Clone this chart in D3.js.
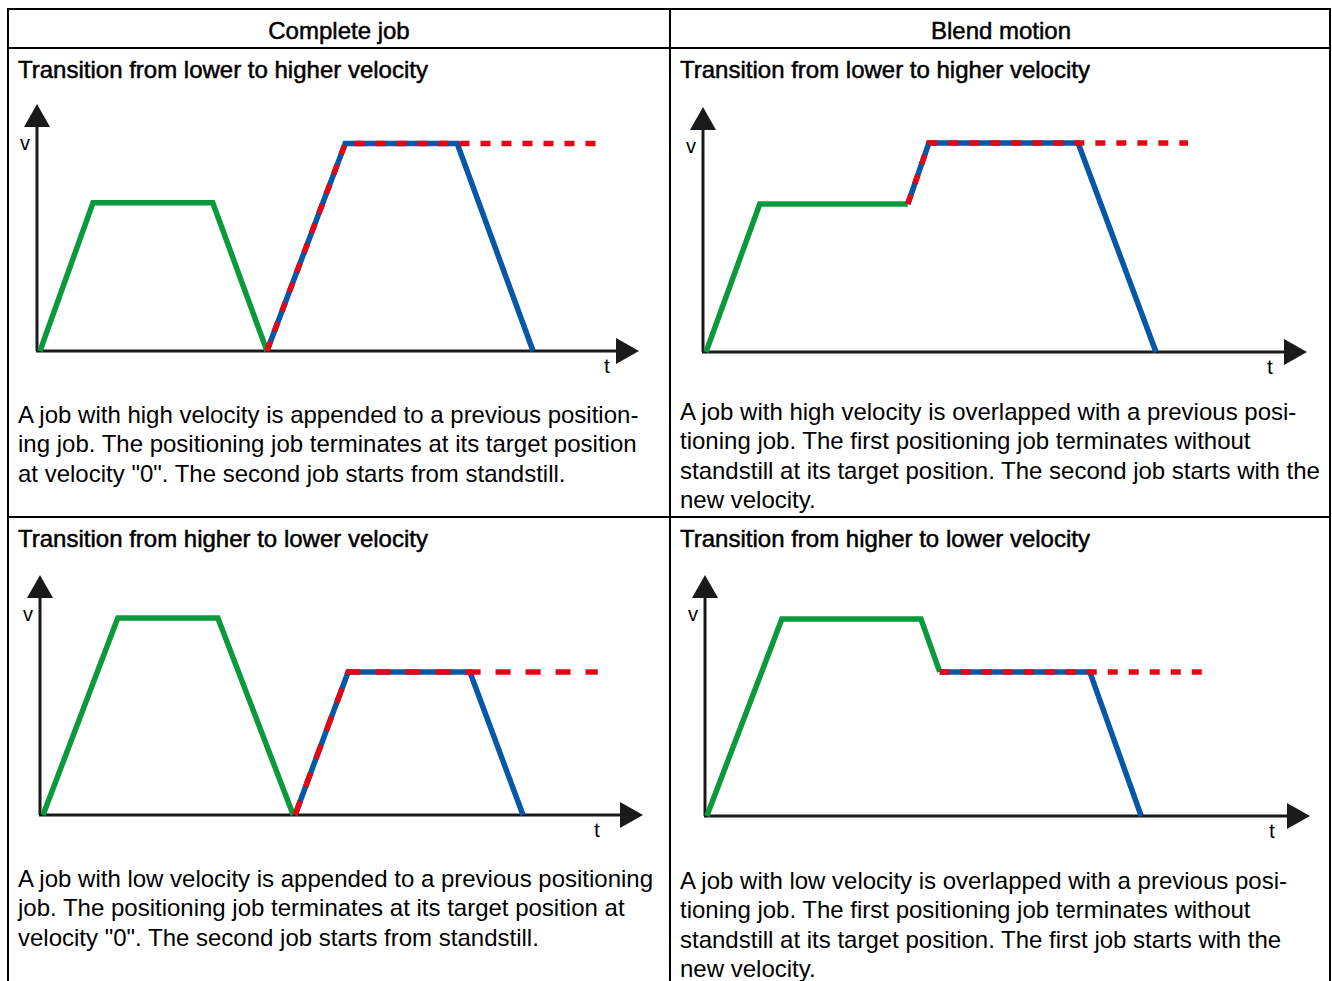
<!DOCTYPE html>
<html>
<head>
<meta charset="utf-8">
<script src="https://cdn.jsdelivr.net/npm/d3@7"></script>
<style>
  body { margin: 0; background: #fff; }
  text { font-family: "Liberation Sans", Arial, sans-serif; fill: #000; }
</style>
</head>
<body>
<script>
// column / row titles
var columnTitles = ["Complete job", "Blend motion"];
var rowTitles = ["Transition from lower to higher velocity", "Transition from higher to lower velocity"];

// descriptions, one array of lines per cell
var text1 = ["A job with high velocity is appended to a previous position-",
             "ing job. The positioning job terminates at its target position",
             "at velocity \"0\". The second job starts from standstill."];
var text2 = ["A job with high velocity is overlapped with a previous posi-",
             "tioning job. The first positioning job terminates without",
             "standstill at its target position. The second job starts with the",
             "new velocity."];
var text3 = ["A job with low velocity is appended to a previous positioning",
             "job. The positioning job terminates at its target position at",
             "velocity \"0\". The second job starts from standstill."];
var text4 = ["A job with low velocity is overlapped with a previous posi-",
             "tioning job. The first positioning job terminates without",
             "standstill at its target position. The first job starts with the",
             "new velocity."];

// velocity profiles [t, v], both in 0..100 of the axis length
var green1 = [[0.5, 0], [9.3, 60], [29.2, 60], [38.2, 0]];
var blue1  = [[38.2, 0], [51.2, 84], [69.8, 84], [82.4, 0]];
var red1   = [[38.2, 0], [51.2, 84], [94.4, 84]];

var green2 = [[0.5, 0], [9.4, 60.4], [33.9, 60.4]];
var blue2  = [[33.9, 60.4], [37.4, 85.3], [62.1, 85.3], [75.0, 0]];
var red2   = [[33.9, 60.4], [37.4, 85.3], [80.3, 85.3]];

var green3 = [[0.5, 0], [12.9, 82.1], [29.5, 82.1], [42.0, 0]];
var blue3  = [[42.3, 0], [51.1, 59.6], [71.3, 59.6], [80.1, 0]];
var red3   = [[42.3, 0], [51.1, 59.6], [92.5, 59.6]];

var green4 = [[0.3, 0], [12.7, 81.7], [35.7, 81.7], [38.8, 59.8]];
var blue4  = [[38.8, 59.8], [63.6, 59.8], [72.1, 0]];
var red4   = [[38.8, 59.8], [82.6, 59.8]];

var W = 1332, H = 981;
var colors = {green: "#0a9a3c", blue: "#0657a6", red: "#e30613", axis: "#1a1a1a"};

var svg = d3.select("body").append("svg")
    .attr("width", W).attr("height", H);

// table grid
var grid = svg.append("g").attr("stroke", "#000").attr("stroke-width", 2);
grid.append("line").attr("x1", 7).attr("x2", 1331).attr("y1", 9).attr("y2", 9);
grid.append("line").attr("x1", 7).attr("x2", 1331).attr("y1", 48).attr("y2", 48);
grid.append("line").attr("x1", 7).attr("x2", 1331).attr("y1", 517).attr("y2", 517);
grid.append("line").attr("x1", 8).attr("x2", 8).attr("y1", 8).attr("y2", H);
grid.append("line").attr("x1", 670).attr("x2", 670).attr("y1", 8).attr("y2", H);
grid.append("line").attr("x1", 1330).attr("x2", 1330).attr("y1", 8).attr("y2", H);

// column headers
svg.selectAll(".colTitle").data(columnTitles).enter().append("text")
    .attr("x", (d, i) => i == 0 ? 339 : 1001)
    .attr("y", 39)
    .attr("text-anchor", "middle")
    .attr("font-size", 24)
    .attr("stroke", "#000").attr("stroke-width", 0.5)
    .text(d => d);

var panels = [
  {green: green1, blue: blue1, red: red1, title: rowTitles[0], lines: text1,
   cx: 18, titleY: 78, textY: 423, x0: 37, y0: 351, tipX: 639, tipY: 104, tX: 607, dash: "10,11"},
  {green: green2, blue: blue2, red: red2, title: rowTitles[0], lines: text2,
   cx: 680, titleY: 78, textY: 420, x0: 703, y0: 352, tipX: 1307, tipY: 107, tX: 1270, dash: "10,11"},
  {green: green3, blue: blue3, red: red3, title: rowTitles[1], lines: text3,
   cx: 18, titleY: 547, textY: 887, x0: 40, y0: 815, tipX: 643, tipY: 575, tX: 597, dash: "15,15"},
  {green: green4, blue: blue4, red: red4, title: rowTitles[1], lines: text4,
   cx: 680, titleY: 547, textY: 889, x0: 705, y0: 816, tipX: 1310, tipY: 575, tX: 1272, dash: "10,11"}
];

var arrowLen = 23, arrowHalf = 13;

panels.forEach(function(p) {
    var g = svg.append("g");

    g.append("text")
        .attr("x", p.cx).attr("y", p.titleY)
        .attr("font-size", 24)
        .attr("stroke", "#000").attr("stroke-width", 0.5)
        .text(p.title);

    g.selectAll(".desc").data(p.lines).enter().append("text")
        .attr("x", p.cx)
        .attr("y", (d, i) => p.textY + i * 29.3)
        .attr("font-size", 24)
        .text(d => d);

    var x = d3.scaleLinear().domain([0, 100]).range([p.x0, p.tipX]);
    var y = d3.scaleLinear().domain([0, 100]).range([p.y0, p.tipY]);

    // axes with arrow heads
    g.append("line")
        .attr("x1", x(0)).attr("y1", y(0))
        .attr("x2", x(0)).attr("y2", y(100) + arrowLen)
        .attr("stroke", colors.axis).attr("stroke-width", 3);
    g.append("line")
        .attr("x1", x(0) - 1).attr("y1", y(0))
        .attr("x2", x(100) - arrowLen).attr("y2", y(0))
        .attr("stroke", colors.axis).attr("stroke-width", 3);
    g.append("path")
        .attr("d", d3.line()([[x(0), y(100)], [x(0) - arrowHalf, y(100) + arrowLen], [x(0) + arrowHalf, y(100) + arrowLen]]) + "Z")
        .attr("fill", colors.axis);
    g.append("path")
        .attr("d", d3.line()([[x(100), y(0)], [x(100) - arrowLen, y(0) - arrowHalf], [x(100) - arrowLen, y(0) + arrowHalf]]) + "Z")
        .attr("fill", colors.axis);

    g.append("text")
        .attr("x", x(0) - 12).attr("y", y(100) + 46)
        .attr("text-anchor", "middle")
        .attr("font-size", 20)
        .text("v");
    g.append("text")
        .attr("x", p.tX).attr("y", y(0) + 22)
        .attr("text-anchor", "middle")
        .attr("font-size", 21)
        .text("t");

    var line = d3.line()
        .x(d => x(d[0]))
        .y(d => y(d[1]));

    g.append("path").datum(p.green)
        .attr("fill", "none").attr("stroke", colors.green).attr("stroke-width", 5.5)
        .attr("d", line);
    g.append("path").datum(p.blue)
        .attr("fill", "none").attr("stroke", colors.blue).attr("stroke-width", 5.5)
        .attr("d", line);
    g.append("path").datum(p.red)
        .attr("fill", "none").attr("stroke", colors.red).attr("stroke-width", 5.5)
        .attr("stroke-dasharray", p.dash)
        .attr("d", line);
});
</script>
</body>
</html>
